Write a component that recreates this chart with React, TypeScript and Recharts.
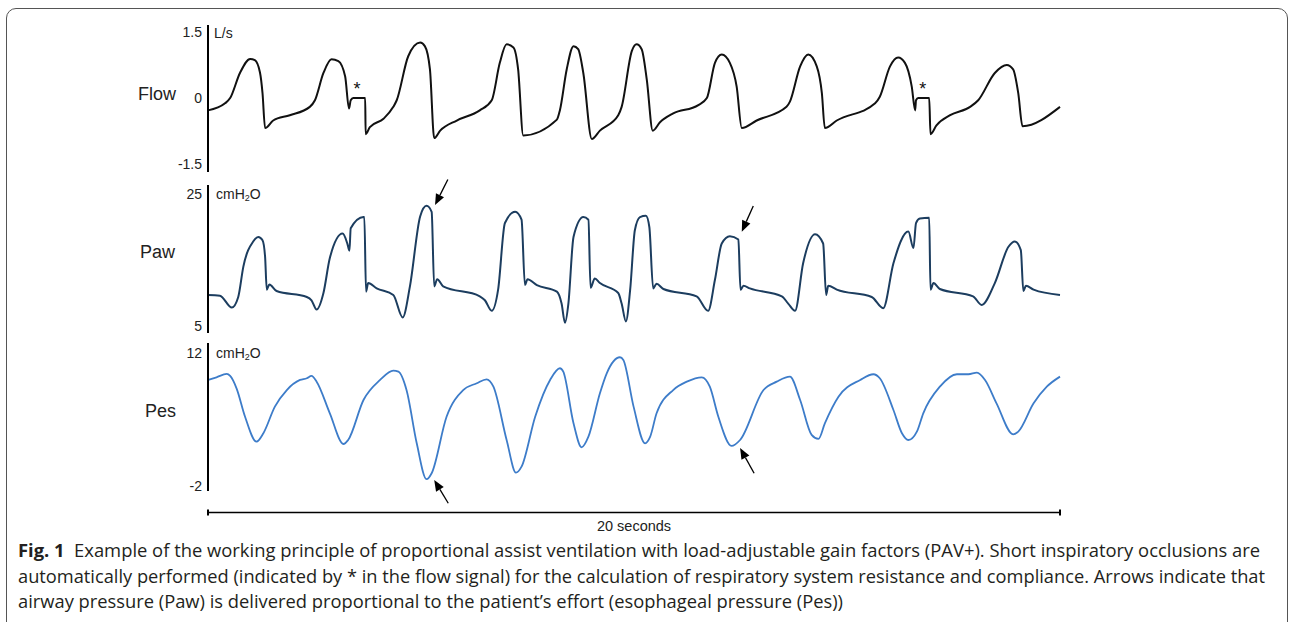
import React from "react";
import { LineChart, Line, XAxis, YAxis, ReferenceLine, ReferenceDot } from "recharts";

// [seconds, L/s]
const flowSamples: [number, number][] = [
  [0, -0.28], [0.4, -0.12], [0.52, 0], [0.75, 0.57], [0.99, 0.89], [1.1, 0.86], [1.22, 0.58], [1.28, 0.11],
  [1.34, -0.68], [1.53, -0.51], [1.92, -0.39], [2.39, -0.2], [2.51, -0.05], [2.71, 0.57], [2.9, 0.88],
  [3.06, 0.84], [3.22, 0.49], [3.31, -0.24], [3.35, -0.05], [3.41, 0], [3.69, 0], [3.7, -0.82], [3.8, -0.66],
  [4.12, -0.47], [4.35, -0.2], [4.43, -0.05], [4.7, 0.95], [4.98, 1.26], [5.09, 1.18], [5.21, 0.65],
  [5.31, -0.91], [5.45, -0.74], [5.84, -0.51], [6.38, -0.28], [6.66, -0.05], [6.85, 0.8], [7.01, 1.22],
  [7.17, 1.15], [7.28, 0.65], [7.4, -0.85], [8.19, -0.49], [8.26, -0.28], [8.42, 0.65], [8.58, 1.18],
  [8.69, 1.11], [8.81, 0.57], [9.01, -0.93], [9.2, -0.74], [9.63, -0.39], [9.71, -0.2], [9.95, 1.07],
  [10.06, 1.22], [10.18, 1.11], [10.3, 0.42], [10.44, -0.74], [10.61, -0.55], [10.92, -0.35], [11.51, -0.16],
  [11.71, 0], [11.9, 0.8], [12.06, 0.99], [12.25, 0.8], [12.41, 0.26], [12.53, -0.68], [12.88, -0.51],
  [13.58, -0.2], [13.66, -0.08], [13.9, 0.72], [14.09, 0.99], [14.29, 0.72], [14.41, 0.11], [14.48, -0.68],
  [14.76, -0.51], [15.66, -0.12], [15.77, 0.03], [16.01, 0.72], [16.2, 0.92], [16.36, 0.8], [16.52, 0.26],
  [16.6, -0.28], [16.62, -0.05], [16.67, 0], [16.93, 0], [16.96, -0.82], [17.1, -0.62], [17.42, -0.39],
  [17.89, -0.2], [18.08, -0.05], [18.47, 0.57], [18.75, 0.75], [18.9, 0.65], [19.02, 0.11], [19.12, -0.64],
  [20, -0.2],
];

// [seconds, cmH2O]
const pawSamples: [number, number][] = [
  [0, 9.7], [0.28, 9.6], [0.56, 7.8], [0.71, 9.4], [0.83, 14.0], [1.06, 17.8], [1.18, 18.5], [1.28, 18.0],
  [1.34, 15.5], [1.38, 10.5], [1.44, 11.3], [1.61, 10.3], [2.32, 9.4], [2.43, 8.9], [2.55, 7.5], [2.71, 10.0],
  [2.86, 15.3], [3.16, 19.0], [3.27, 17.5], [3.32, 16.4], [3.35, 19.8], [3.65, 21.5], [3.67, 21.5],
  [3.71, 10.2], [3.76, 11.5], [3.96, 10.7], [4.35, 9.7], [4.57, 6.3], [4.74, 11.0], [4.98, 21.6],
  [5.13, 23.2], [5.25, 22.3], [5.31, 11.0], [5.38, 12.1], [5.52, 11.0], [6.38, 9.5], [6.5, 8.9], [6.66, 7.3],
  [6.81, 10.5], [6.97, 20.6], [7.21, 22.3], [7.36, 21.1], [7.44, 11.2], [7.5, 12.1], [7.72, 11.2],
  [8.19, 10.2], [8.3, 8.4], [8.38, 5.5], [8.46, 8.4], [8.58, 18.5], [8.81, 21.5], [8.93, 21.1], [8.98, 10.8],
  [9.08, 12.2], [9.2, 11.5], [9.63, 10.0], [9.71, 8.4], [9.81, 5.7], [9.91, 10.5], [10.02, 19.5],
  [10.14, 21.5], [10.28, 21.7], [10.36, 20.0], [10.45, 10.7], [10.53, 11.4], [10.69, 10.6], [11.47, 9.5],
  [11.74, 7.3], [11.9, 12.0], [12.06, 17.5], [12.25, 18.6], [12.45, 18.1], [12.5, 10.5], [12.57, 11.1],
  [12.72, 10.7], [13.47, 9.5], [13.62, 8.4], [13.78, 7.3], [13.97, 14.5], [14.25, 18.9], [14.44, 17.5],
  [14.51, 9.7], [14.56, 11.1], [14.76, 10.5], [15.58, 9.4], [15.85, 7.7], [16.09, 14.5], [16.44, 19.3],
  [16.56, 16.8], [16.62, 20.6], [16.71, 21.3], [16.93, 21.4], [16.96, 10.5], [17.03, 11.5], [17.18, 10.6],
  [17.96, 9.5], [18.16, 8.2], [18.47, 11.5], [18.79, 17.0], [18.94, 17.8], [19.08, 16.5], [19.14, 10.3],
  [19.2, 11.1], [19.38, 10.5], [20, 9.7],
];

// [seconds, cmH2O]
const pesSamples: [number, number][] = [
  [0, 9.16], [0.2, 9.44], [0.44, 9.79], [0.52, 9.58], [0.67, 8.28], [0.87, 5.29], [1.14, 2.66], [1.3, 3.55],
  [1.57, 6.35], [1.85, 8.1], [2.16, 9.16], [2.32, 9.34], [2.43, 9.58], [2.55, 8.98], [2.86, 5.65],
  [3.18, 2.42], [3.29, 2.84], [3.65, 7.05], [4.04, 9.16], [4.35, 10.14], [4.47, 10.03], [4.66, 8.1],
  [4.9, 2.49], [5.13, -1.29], [5.25, -0.66], [5.6, 5.29], [5.99, 8.1], [6.31, 8.81], [6.54, 9.23],
  [6.7, 8.45], [7.01, 2.84], [7.23, -0.6], [7.36, 0.03], [7.68, 5.29], [8.03, 9.16], [8.26, 10.39],
  [8.34, 10.03], [8.58, 4.6], [8.77, 2.07], [8.93, 3.19], [9.2, 7.76], [9.36, 9.86], [9.67, 11.55],
  [9.75, 11.26], [9.99, 6.35], [10.26, 2.49], [10.38, 3.19], [10.53, 5.65], [10.92, 8.1], [11.24, 8.98],
  [11.59, 9.44], [11.78, 8.45], [11.98, 5.29], [12.29, 2.21], [12.49, 2.84], [13.04, 8.1], [13.35, 8.98],
  [13.66, 9.51], [13.9, 7.05], [14.17, 3.37], [14.33, 2.95], [14.48, 4.6], [14.8, 7.4], [15.31, 9.16],
  [15.62, 9.76], [15.77, 9.34], [16.09, 6.0], [16.29, 3.55], [16.44, 2.84], [16.64, 3.72], [16.79, 5.65],
  [17.18, 8.45], [17.58, 9.76], [17.85, 9.76], [18.05, 9.93], [18.24, 9.16], [18.51, 6.7], [18.9, 3.44],
  [19.02, 3.72], [19.38, 6.7], [19.69, 8.45], [20, 9.51],
];

const flowTicks = [-1.5, 0, 1.5];
const pawTicks = [5, 25];
const pesTicks = [-2, 12];

// occlusion markers (*) in the flow trace: [seconds, L/s]
const occlusionMarks: [number, number][] = [[3.5, 0.3], [16.78, 0.3]];
// arrows: [tailT, tailV, tipT, tipV]
const pawArrows = [[5.63, 27.2, 5.33, 23.33], [12.8, 23.18, 12.53, 19.29]];
const pesArrows = [[5.64, -3.82, 5.31, -1.37], [12.82, -0.66, 12.49, 2.0]];
const scaleBarLevel = -4.79;

const toRows = (s: [number, number][]) => s.map(([t, v]) => ({ t, v }));

const FONT = "'Liberation Sans', Arial, sans-serif";
const tickStyle = { fontSize: 14, fill: "#222", fontFamily: FONT };
const PLOT_W = 852;
const AXIS_W = 108;

const Arrow = (props: any) => {
  const { x1, y1, x2, y2 } = props;
  const dx = x2 - x1;
  const dy = y2 - y1;
  const len = Math.hypot(dx, dy) || 1;
  const ux = dx / len;
  const uy = dy / len;
  const head = 11;
  const half = 4.5;
  const bx = x2 - ux * head;
  const by = y2 - uy * head;
  return (
    <g>
      <line x1={x1} y1={y1} x2={bx} y2={by} stroke="#000" strokeWidth={1.3} />
      <polygon
        points={`${x2},${y2} ${bx - uy * half},${by + ux * half} ${bx + uy * half},${by - ux * half}`}
        fill="#000"
      />
    </g>
  );
};

const ScaleBar = (props: any) => {
  const { x1, y1, x2, y2 } = props;
  return (
    <g>
      <line x1={x1} y1={y1} x2={x2} y2={y2} stroke="#000" strokeWidth={1.5} />
      <line x1={x1} y1={y1 - 3} x2={x1} y2={y1 + 3} stroke="#000" strokeWidth={2} />
      <line x1={x2} y1={y1 - 3} x2={x2} y2={y1 + 3} stroke="#000" strokeWidth={2} />
      <text x={(x1 + x2) / 2} y={y1 + 19} textAnchor="middle" fontSize={14.5} fill="#222" fontFamily={FONT}>
        20 seconds
      </text>
    </g>
  );
};

const Asterisk = (props: any) => (
  <text x={props.cx} y={props.cy + 10} textAnchor="middle" fontSize={18} fill="#111" fontFamily={FONT}>
    *
  </text>
);

const label = (text: string, right: number, cy: number) => (
  <div
    style={{
      position: "absolute",
      left: right - 80,
      width: 80,
      top: cy - 10,
      lineHeight: "20px",
      textAlign: "right",
      fontSize: 18,
      fontFamily: FONT,
      color: "#222",
    }}
  >
    {text}
  </div>
);

const unit = (content: React.ReactNode, left: number, cy: number) => (
  <div
    style={{
      position: "absolute",
      left,
      top: cy - 8,
      lineHeight: "16px",
      fontSize: 14,
      fontFamily: FONT,
      color: "#222",
      whiteSpace: "nowrap",
    }}
  >
    {content}
  </div>
);

const cmH2O = (
  <span>
    cmH<sub style={{ fontSize: 9, verticalAlign: "-2px" }}>2</sub>O
  </span>
);

export default function App() {
  const chartLeft = 208 - AXIS_W;
  return (
    <div style={{ position: "absolute", left: 0, top: 0, width: 1291, height: 622, overflow: "hidden", background: "#fff" }}>
      <div
        style={{
          position: "absolute",
          left: 6,
          top: 8,
          width: 1280,
          height: 700,
          border: "1px solid #555",
          borderRadius: 10,
        }}
      />

      {label("Flow", 176, 94)}
      {label("Paw", 175, 252)}
      {label("Pes", 176, 411)}
      {unit("L/s", 214, 33)}
      {unit(cmH2O, 216, 194)}
      {unit(cmH2O, 216, 353)}

      {/* Flow */}
      <div style={{ position: "absolute", left: chartLeft, top: 13 }}>
        <LineChart width={AXIS_W + PLOT_W + 20} height={171} data={toRows(flowSamples)} margin={{ top: 12, right: 20, bottom: 12, left: 0 }}>
          <XAxis type="number" dataKey="t" domain={[0, 20]} hide />
          <YAxis
            type="number"
            domain={[-1.68, 1.66]}
            ticks={flowTicks}
            interval={0}
            width={AXIS_W}
            tick={tickStyle}
            tickLine={false}
            tickSize={5}
            tickMargin={1}
            axisLine={{ stroke: "#000", strokeWidth: 2 }}
          />
          <Line type="monotone" dataKey="v" stroke="#111" strokeWidth={2} dot={false} isAnimationActive={false} />
          {occlusionMarks.map(([t, v], i) => (
            <ReferenceDot key={i} x={t} y={v} r={0} shape={Asterisk} />
          ))}
        </LineChart>
      </div>

      {/* Paw */}
      <div style={{ position: "absolute", left: chartLeft, top: 165 }}>
        <LineChart width={AXIS_W + PLOT_W + 20} height={178} data={toRows(pawSamples)} margin={{ top: 20, right: 20, bottom: 10, left: 0 }}>
          <XAxis type="number" dataKey="t" domain={[0, 20]} hide />
          <YAxis
            type="number"
            domain={[3.94, 26.36]}
            ticks={pawTicks}
            interval={0}
            width={AXIS_W}
            tick={tickStyle}
            tickLine={false}
            tickSize={5}
            tickMargin={1}
            axisLine={{ stroke: "#000", strokeWidth: 2 }}
          />
          <Line type="monotone" dataKey="v" stroke="#1c3d5f" strokeWidth={2} dot={false} isAnimationActive={false} />
          {pawArrows.map(([t1, v1, t2, v2], i) => (
            <ReferenceLine key={i} segment={[{ x: t1, y: v1 }, { x: t2, y: v2 }]} ifOverflow="visible" shape={Arrow} />
          ))}
        </LineChart>
      </div>

      {/* Pes */}
      <div style={{ position: "absolute", left: chartLeft, top: 333 }}>
        <LineChart width={AXIS_W + PLOT_W + 20} height={206} data={toRows(pesSamples)} margin={{ top: 10, right: 20, bottom: 48, left: 0 }}>
          <XAxis type="number" dataKey="t" domain={[0, 20]} hide />
          <YAxis
            type="number"
            domain={[-2.53, 13.05]}
            ticks={pesTicks}
            interval={0}
            width={AXIS_W}
            tick={tickStyle}
            tickLine={false}
            tickSize={5}
            tickMargin={1}
            axisLine={{ stroke: "#000", strokeWidth: 2 }}
          />
          <Line type="monotone" dataKey="v" stroke="#3d7cc9" strokeWidth={1.8} dot={false} isAnimationActive={false} />
          {pesArrows.map(([t1, v1, t2, v2], i) => (
            <ReferenceLine key={i} segment={[{ x: t1, y: v1 }, { x: t2, y: v2 }]} ifOverflow="visible" shape={Arrow} />
          ))}
          <ReferenceLine
            segment={[{ x: 0, y: scaleBarLevel }, { x: 20, y: scaleBarLevel }]}
            ifOverflow="visible"
            shape={ScaleBar}
          />
        </LineChart>
      </div>

      {/* caption */}
      <svg width={1291} height={622} style={{ position: "absolute", left: 0, top: 0, pointerEvents: "none" }}>
        <g fontFamily="'Open Sans', 'Noto Sans', sans-serif" fontSize={17.5} fill="#231f20">
          <text x={18} y={557} textLength={1242} lengthAdjust="spacingAndGlyphs">
            <tspan fontWeight="bold">Fig. 1</tspan>
            <tspan dx={9}>
              Example of the working principle of proportional assist ventilation with load-adjustable gain factors (PAV+). Short inspiratory occlusions are
            </tspan>
          </text>
          <text x={18} y={583} textLength={1247} lengthAdjust="spacingAndGlyphs">
            automatically performed (indicated by * in the flow signal) for the calculation of respiratory system resistance and compliance. Arrows indicate that
          </text>
          <text x={18} y={608} textLength={825} lengthAdjust="spacingAndGlyphs">
            airway pressure (Paw) is delivered proportional to the patient’s effort (esophageal pressure (Pes))
          </text>
        </g>
      </svg>
    </div>
  );
}
